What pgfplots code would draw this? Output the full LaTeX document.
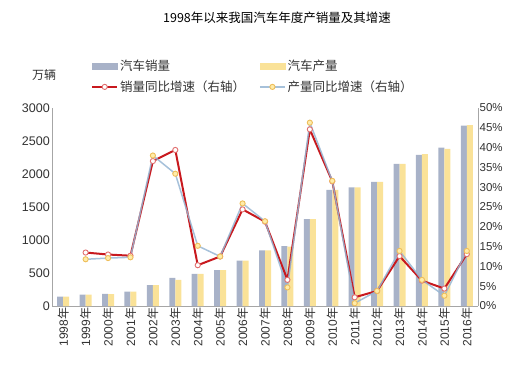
\documentclass[border=0pt]{standalone}
\usepackage{fontspec}
\setmainfont{Liberation Sans}
\newfontfamily\cjk{Noto Sans CJK SC}
\usepackage{pgfplots}
\pgfplotsset{compat=1.18}
\definecolor{barGray}{RGB}{168,178,200}
\definecolor{barYellow}{RGB}{250,226,152}
\definecolor{lineRed}{RGB}{200,25,30}
\definecolor{lineBlue}{RGB}{150,182,212}
\definecolor{mkPink}{RGB}{225,110,110}
\definecolor{mkYelFill}{RGB}{255,236,170}
\definecolor{mkYelDraw}{RGB}{238,190,90}
\definecolor{txt}{RGB}{50,50,50}
\newcommand{\nian}{{\cjk 年}}
\pgfplotsset{
  mylineleg/.style={legend image code/.code={\draw[mark repeat=2,mark phase=2,##1] plot coordinates {(0pt,0pt) (12.5pt,0pt) (25pt,0pt)};}},
}
\begin{document}
\begin{tikzpicture}
\useasboundingbox (0,0) rectangle (520pt,365pt);
\node[font=\cjk\fontsize{12.5}{14}\selectfont, text=black] at (277pt,347pt) {1998年以来我国汽车年度产销量及其增速};
\node[font=\cjk\fontsize{12}{14}\selectfont, text=txt] at (44pt,290pt) {万辆};
% bars, left axis
\begin{axis}[
  at={(52pt,59pt)}, anchor=south west,
  scale only axis, width=426pt, height=198pt,
  xmin=-0.5, xmax=18.5, ymin=0, ymax=3000,
  axis y line*=left, axis x line*=bottom,
  axis line style={draw=gray!70, line width=0.6pt, -},
  major tick length=0pt,
  xtick={0,...,18},
  xticklabels={1998\nian,1999\nian,2000\nian,2001\nian,2002\nian,2003\nian,2004\nian,2005\nian,2006\nian,2007\nian,2008\nian,2009\nian,2010\nian,2011\nian,2012\nian,2013\nian,2014\nian,2015\nian,2016\nian},
  xticklabel style={rotate=90, anchor=east, font=\fontsize{12}{14}\selectfont, text=txt, inner sep=1.5pt},
  ytick={0,500,1000,1500,2000,2500,3000},
  yticklabels={0,500,1000,1500,2000,2500,3000},
  yticklabel style={font=\fontsize{12.5}{14}\selectfont, text=txt, inner sep=2pt},
  clip=false,
]
\addplot[ybar, bar width=6pt, bar shift=-3pt, fill=barGray, draw=none] coordinates {
(0,143) (1,171) (2,182) (3,218) (4,318) (5,425) (6,485) (7,545) (8,686) (9,844)
(10,909) (11,1318) (12,1758) (13,1798) (14,1879) (15,2152) (16,2288) (17,2399) (18,2732)};
\addplot[ybar, bar width=6pt, bar shift=3pt, fill=barYellow, draw=none] coordinates {
(0,143) (1,171) (2,180) (3,218) (4,318) (5,396) (6,485) (7,545) (8,686) (9,844)
(10,900) (11,1318) (12,1758) (13,1798) (14,1879) (15,2152) (16,2300) (17,2380) (18,2740)};
\end{axis}
% growth lines, right axis
\begin{axis}[
  at={(52pt,59pt)}, anchor=south west,
  scale only axis, width=426pt, height=198pt,
  xmin=-0.5, xmax=18.5, ymin=0, ymax=50,
  axis y line*=right, axis x line=none,
  axis line style={draw=gray!70, line width=0.6pt, -},
  major tick length=0pt,
  ytick={0,5,10,15,20,25,30,35,40,45,50},
  yticklabels={0\%,5\%,10\%,15\%,20\%,25\%,30\%,35\%,40\%,45\%,50\%},
  yticklabel style={font=\fontsize{11.5}{14}\selectfont, text=txt, inner sep=1.5pt},
  clip=false,
  legend columns=2,
  legend style={at={(0.0845,1.265)}, anchor=north west, draw=none, fill=none,
    font=\cjk\fontsize{12.5}{14}\selectfont, text=txt,
    /tikz/every even column/.append style={column sep=12pt},
    row sep=5pt},
  legend cell align=left,
]
\addlegendimage{legend image code/.code={\fill[barGray] (0pt,-3pt) rectangle (25pt,3pt);}}
\addlegendentry{汽车销量}
\addlegendimage{legend image code/.code={\fill[barYellow] (0pt,-3pt) rectangle (25pt,3pt);}}
\addlegendentry{汽车产量}
\addplot[color=lineRed, line width=2pt, mark=*, mark size=2.6pt,
  mark options={fill=white, draw=mkPink, line width=0.9pt}, mylineleg]
coordinates {
(1,13.5) (2,13.0) (3,12.7) (4,36.6) (5,39.4) (6,10.3) (7,12.5) (8,24.4) (9,21.3)
(10,6.6) (11,44.6) (12,31.5) (13,2.2) (14,3.8) (15,12.6) (16,6.4) (17,4.4) (18,13.1)};
\addlegendentry{销量同比增速（右轴）}
\addplot[color=lineBlue, opacity=0.85, line width=1.5pt, mark=*, mark size=2.6pt,
  mark options={fill=mkYelFill, draw=mkYelDraw, line width=0.9pt, opacity=1}, mylineleg]
coordinates {
(1,11.8) (2,12.1) (3,12.3) (4,38.0) (5,33.4) (6,15.2) (7,12.5) (8,25.9) (9,21.4)
(10,4.7) (11,46.3) (12,31.6) (13,0.7) (14,3.8) (15,13.9) (16,6.6) (17,2.6) (18,13.9)};
\addlegendentry{产量同比增速（右轴）}
\end{axis}
\end{tikzpicture}
\end{document}
